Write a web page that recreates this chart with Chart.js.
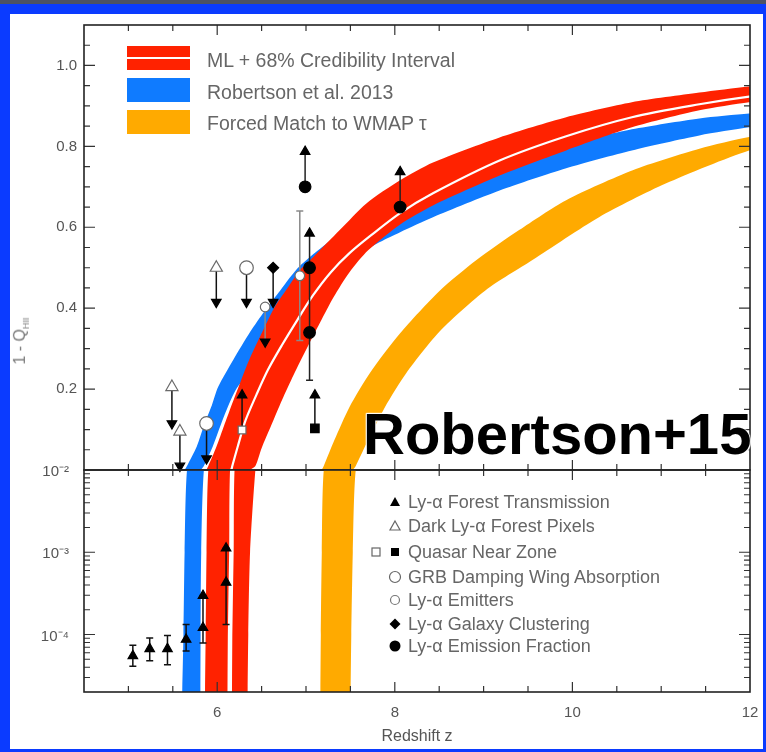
<!DOCTYPE html>
<html>
<head>
<meta charset="utf-8">
<script src="https://cdn.jsdelivr.net/npm/chart.js@4.4.1/dist/chart.umd.min.js"></script>
<style>
html, body { margin: 0; padding: 0; }
body { width: 766px; height: 752px; background: #0b3bff; position: relative; overflow: hidden; font-family: "Liberation Sans", Arial, sans-serif; }
#strip { position: absolute; left: 0; top: 0; width: 766px; height: 4px; background: #4d5266; }
#panel { position: absolute; left: 10px; top: 14px; width: 753px; height: 735px; background: #fff; }
canvas { position: absolute; left: 0; top: 0; }
.sw { position: absolute; left: 127px; width: 63px; height: 24px; }
.lg { position: absolute; left: 207px; font-size: 19.5px; line-height: 22px; color: #666; white-space: nowrap; }
.lg2 { position: absolute; left: 408px; font-size: 18px; line-height: 20px; color: #666; white-space: nowrap; }
.mk { position: absolute; width: 20px; height: 20px; }
#ytitle { position: absolute; left: 21px; top: 341px; transform: translate(-50%, -50%) rotate(-90deg); font-size: 16px; color: #777; white-space: nowrap; }
#ytitle sub { font-size: 9px; }
#stamp { position: absolute; left: 363px; top: 405px; font-size: 58px; line-height: 58px; font-weight: bold; color: #000; white-space: nowrap;
  text-shadow: 0 0 2px #fff, 0 0 2px #fff, 1px 1px 1px #fff, -1px -1px 1px #fff; }
</style>
</head>
<body>
<div id="strip"></div>
<div id="panel"></div>
<canvas id="top" width="766" height="752"></canvas>
<canvas id="bottom" width="766" height="752"></canvas>

<div class="sw" style="top:46px;background:#ff2200"><div style="position:absolute;left:0;right:0;top:10.5px;height:2.5px;background:#fff"></div></div>
<div class="sw" style="top:78px;background:#0f7bff"></div>
<div class="sw" style="top:110px;background:#ffaa00"></div>
<div class="lg" style="top:49px">ML + 68% Credibility Interval</div>
<div class="lg" style="top:81px">Robertson et al. 2013</div>
<div class="lg" style="top:112px">Forced Match to WMAP τ</div>

<svg class="mk" style="left:385px;top:492px" viewBox="0 0 20 20"><polygon points="10,5 15,14 5,14" fill="#000"/></svg>
<svg class="mk" style="left:385px;top:516px" viewBox="0 0 20 20"><polygon points="10,5 15,14 5,14" fill="#fff" stroke="#666" stroke-width="1.2"/></svg>
<svg class="mk" style="left:366px;top:542px" viewBox="0 0 20 20"><rect x="6" y="6" width="8" height="8" fill="#fff" stroke="#666" stroke-width="1.2"/></svg>
<svg class="mk" style="left:385px;top:542px" viewBox="0 0 20 20"><rect x="6" y="6" width="8" height="8" fill="#000"/></svg>
<svg class="mk" style="left:385px;top:567px" viewBox="0 0 20 20"><circle cx="10" cy="10" r="5.5" fill="#fff" stroke="#666" stroke-width="1.2"/></svg>
<svg class="mk" style="left:385px;top:590px" viewBox="0 0 20 20"><circle cx="10" cy="10" r="4.5" fill="#fff" stroke="#777" stroke-width="1.2"/></svg>
<svg class="mk" style="left:385px;top:614px" viewBox="0 0 20 20"><polygon points="10,4.5 15.5,10 10,15.5 4.5,10" fill="#000"/></svg>
<svg class="mk" style="left:385px;top:636px" viewBox="0 0 20 20"><circle cx="10" cy="10" r="5.5" fill="#000"/></svg>
<div class="lg2" style="top:492px">Ly-α Forest Transmission</div>
<div class="lg2" style="top:516px">Dark Ly-α Forest Pixels</div>
<div class="lg2" style="top:542px">Quasar Near Zone</div>
<div class="lg2" style="top:567px">GRB Damping Wing Absorption</div>
<div class="lg2" style="top:590px">Ly-α Emitters</div>
<div class="lg2" style="top:614px">Ly-α Galaxy Clustering</div>
<div class="lg2" style="top:636px">Ly-α Emission Fraction</div>

<div id="ytitle">1 - Q<sub>HII</sub></div>
<div id="stamp">Robertson+15</div>

<script>
// bands: [redshift, 1 - Q_HII] along each edge
const mlHi = [[5.86,1e-5],[5.87,1e-4],[5.88,1e-3],[5.90,0.01],[5.99,0.057],[6.06,0.099],[6.13,0.141],[6.24,0.205],[6.35,0.267],[6.49,0.333],[6.64,0.400],[6.79,0.449],[6.93,0.494],[7.08,0.526],[7.38,0.593],[7.68,0.659],[8.06,0.716],[8.43,0.760],[9.18,0.822],[9.93,0.872],[10.67,0.909],[11.43,0.933],[11.99,0.948],[12.3,0.955]];
const mlLo = [[6.34,1e-5],[6.35,1e-4],[6.37,1e-3],[6.43,0.01],[6.50,0.054],[6.61,0.111],[6.73,0.173],[6.86,0.235],[7.01,0.301],[7.16,0.365],[7.31,0.427],[7.49,0.489],[7.70,0.543],[8.06,0.607],[8.43,0.654],[9.18,0.728],[9.93,0.790],[10.67,0.847],[11.43,0.889],[11.99,0.909],[12.3,0.915]];
const mlBest = [[6.14,1e-5],[6.145,1e-4],[6.16,1e-3],[6.17,0.01],[6.23,0.057],[6.32,0.123],[6.44,0.185],[6.57,0.247],[6.73,0.309],[6.90,0.370],[7.08,0.432],[7.28,0.489],[7.49,0.536],[7.72,0.578],[8.06,0.635],[8.43,0.684],[9.18,0.765],[9.93,0.825],[10.67,0.872],[11.43,0.904],[11.99,0.923],[12.3,0.929]];
const r13Hi = [[5.60,1e-5],[5.62,1e-4],[5.633,1e-3],[5.66,0.01],[5.77,0.058],[5.86,0.116],[5.94,0.160],[6.01,0.205],[6.18,0.272],[6.37,0.341],[6.54,0.395],[6.71,0.444],[6.93,0.504],[7.38,0.585],[7.68,0.635],[8.06,0.679],[8.43,0.716],[9.18,0.763],[9.93,0.805],[10.67,0.842],[11.43,0.869],[11.99,0.881],[12.3,0.886]];
const r13Lo = [[5.81,1e-5],[5.813,1e-4],[5.82,1e-3],[5.85,0.01],[5.95,0.058],[6.09,0.140],[6.22,0.202],[6.43,0.259],[6.65,0.326],[6.84,0.378],[7.02,0.427],[7.27,0.481],[7.52,0.523],[7.80,0.560],[8.06,0.588],[8.43,0.625],[9.18,0.691],[9.93,0.746],[10.67,0.790],[11.43,0.827],[11.99,0.847],[12.3,0.853]];
const wmapHi = [[7.16,1e-5],[7.167,1e-4],[7.178,1e-3],[7.20,0.01],[7.32,0.074],[7.49,0.156],[7.72,0.240],[8.06,0.338],[8.50,0.442],[8.92,0.519],[9.40,0.593],[9.93,0.667],[10.68,0.741],[11.43,0.794],[11.99,0.823],[12.3,0.830]];
const wmapLo = [[7.50,1e-5],[7.51,1e-4],[7.527,1e-3],[7.56,0.01],[7.70,0.074],[7.89,0.156],[8.13,0.240],[8.52,0.346],[9.02,0.444],[9.55,0.519],[10.30,0.625],[11.05,0.708],[11.99,0.790],[12.3,0.797]];

// constraints (top panel, linear)
const darkZ = [5.49, 5.58, 5.99], darkV = [0.205, 0.095, 0.50], darkLim = [0.115, 0.01, 0.415];
const grbZ = [5.88, 6.33], grbV = [0.115, 0.50], grbLim = [0.028, 0.415];
const laeZ = [6.54, 6.93], laeV = [0.403, 0.48], laeLim = [0.317, null], laeLo = [null, 0.32], laeHi = [null, 0.64];
const clusZ = [6.63], clusV = [0.50], clusLim = [0.415];
const fracZ = [6.99, 7.04, 7.04, 8.06], fracV = [0.70, 0.50, 0.34, 0.65], fracLim = [0.787, 0.585, null, 0.737];
const fracLo = [null, null, 0.222, null], fracHi = [null, null, 0.50, null];
const qsoZ = [7.10], qsoV = [0.103], qsoLim = [0.185];
const qsoOpenZ = [6.28], qsoOpenV = [0.099], qsoOpenLim = [0.185];
// bottom panel, log
const forestZ = [5.05, 5.24, 5.44, 5.65, 5.84, 5.84, 6.10, 6.10];
const forestV = [5.5e-5, 6.7e-5, 6.7e-5, 8.7e-5, 1.21e-4, 2.97e-4, 4.3e-4, 1.12e-3];
const forestLo = [4.1e-5, 4.8e-5, 4.3e-5, 6.3e-5, 7.9e-5, null, 1.32e-4, null];
const forestHi = [7.4e-5, 9.1e-5, 9.7e-5, 1.32e-4, 2.97e-4, null, 1.12e-3, null];

// axes
const xLabels = [6, 8, 10, 12];
const xMajor = [6, 8, 10];
const xMinor = [5, 5.5, 6.5, 7, 7.5, 8.5, 9, 9.5, 10.5, 11, 11.5];
const topLabels = [0.2, 0.4, 0.6, 0.8, 1.0];
const logLabels = {'0.01': '10⁻²', '0.001': '10⁻³', '0.0001': '10⁻⁴'};

const RED = '#ff2200', BLUE = '#0f7bff', ORANGE = '#ffaa00';
Chart.defaults.font.family = '"Liberation Sans", Arial, sans-serif';

const pts = (zs, vs) => zs.map((z, i) => ({x: z, y: vs[i]}));
const heads = (zs, vs, lims, up) => zs.map((z, i) => lims[i] != null && (lims[i] > vs[i]) === up ? {x: z, y: lims[i]} : null).filter(p => p);

function band(hi, lo, color, order) {
    const poly = hi.concat(lo.slice().reverse()).map(([x, y]) => ({x, y}));
    return { data: poly, borderWidth: 0, pointRadius: 0, fill: 'shape', backgroundColor: color, tension: 0.25, capBezierPoints: false, order };
}

function bandSets(mlWidth) {
    return [
        band(wmapHi, wmapLo, ORANGE, 20),
        band(r13Hi, r13Lo, BLUE, 19),
        band(mlHi, mlLo, RED, 18),
        { label: 'ML', data: mlBest.map(([x, y]) => ({x, y})), borderColor: '#fff', borderWidth: mlWidth, pointRadius: 0, tension: 0.3, fill: false, order: 17 }
    ];
}

function marks(data, style, order) {
    return Object.assign({ data, showLine: false, pointBorderWidth: 1.2, clip: 10, order }, style);
}

const filled = { pointBackgroundColor: '#000', pointBorderColor: '#000' };
const open = { pointBackgroundColor: '#fff', pointBorderColor: '#6a6a6a' };

// error bars and limit arrows, drawn right after the ML line
function barsPlugin(sets) {
    return {
        id: 'bars',
        afterDatasetDraw(chart, args) {
            if (chart.data.datasets[args.index].label !== 'ML') return;
            const {ctx, scales: {x, y}} = chart;
            ctx.save();
            ctx.lineCap = 'butt';
            sets.forEach(s => {
                ctx.strokeStyle = s.color;
                ctx.lineWidth = s.width || 1.5;
                s.z.forEach((z, i) => {
                    const px = x.getPixelForValue(z);
                    const py = y.getPixelForValue(s.v[i]);
                    ctx.beginPath();
                    if (s.lim && s.lim[i] != null) {
                        ctx.moveTo(px, py);
                        ctx.lineTo(px, y.getPixelForValue(s.lim[i]));
                    }
                    if (s.lo && s.lo[i] != null) {
                        const a = y.getPixelForValue(s.lo[i]), b = y.getPixelForValue(s.hi[i]);
                        ctx.moveTo(px, a); ctx.lineTo(px, b);
                        ctx.moveTo(px - 3.5, a); ctx.lineTo(px + 3.5, a);
                        ctx.moveTo(px - 3.5, b); ctx.lineTo(px + 3.5, b);
                    }
                    ctx.stroke();
                });
            });
            ctx.restore();
        }
    };
}

// box with inward ticks on all four sides
function framePlugin(yMajor, yMinor) {
    return {
        id: 'frame',
        afterDatasetsDraw(chart) {
            const {ctx, chartArea: a, scales: {x, y}} = chart;
            ctx.save();
            ctx.strokeStyle = '#333';
            ctx.lineWidth = 1.2;
            ctx.beginPath();
            const xt = (v, len) => {
                const p = x.getPixelForValue(v);
                ctx.moveTo(p, a.top); ctx.lineTo(p, a.top + len);
                ctx.moveTo(p, a.bottom); ctx.lineTo(p, a.bottom - len);
            };
            const yt = (v, len) => {
                const p = y.getPixelForValue(v);
                ctx.moveTo(a.left, p); ctx.lineTo(a.left + len, p);
                ctx.moveTo(a.right, p); ctx.lineTo(a.right - len, p);
            };
            xMajor.forEach(v => xt(v, 10));
            xMinor.forEach(v => xt(v, 6));
            yMajor.forEach(v => yt(v, 11));
            yMinor.forEach(v => yt(v, 6));
            ctx.stroke();
            ctx.lineWidth = 1.6;
            ctx.strokeStyle = '#222';
            ctx.strokeRect(a.left, a.top, a.right - a.left, a.bottom - a.top);
            ctx.restore();
        }
    };
}

const tickFont = { size: 15 };
const common = {
    responsive: false,
    animation: false,
    events: [],
    plugins: { legend: { display: false }, tooltip: { enabled: false } }
};
const fixWidth = s => { s.width = 84; s.paddingTop = 0; s.paddingBottom = 0; };

// top panel: linear 0 - 1.1
const topMinor = [];
for (let k = 1; k <= 21; k++) if (k % 4 !== 0) topMinor.push(k * 0.05);

new Chart(document.getElementById('top'), {
    type: 'line',
    data: {
        datasets: [
            ...bandSets(2.2),
            marks(pts(darkZ, darkV), Object.assign({ pointStyle: 'triangle', pointRadius: 7 }, open), 5),
            marks(pts(grbZ, grbV), Object.assign({ pointStyle: 'circle', pointRadius: 6.8 }, open), 5),
            marks(pts(laeZ, laeV), Object.assign({ pointStyle: 'circle', pointRadius: 4.8 }, open), 5),
            marks(pts(qsoOpenZ, qsoOpenV), Object.assign({ pointStyle: 'rect', pointRadius: 5.5 }, open), 5),
            marks(pts(clusZ, clusV), Object.assign({ pointStyle: 'rectRot', pointRadius: 5.5 }, filled), 4),
            marks(pts(fracZ, fracV), Object.assign({ pointStyle: 'circle', pointRadius: 5.8 }, filled), 4),
            marks(pts(qsoZ, qsoV), Object.assign({ pointStyle: 'rect', pointRadius: 6 }, filled), 4),
            marks([].concat(heads(darkZ, darkV, darkLim, false), heads(grbZ, grbV, grbLim, false), heads(laeZ, laeV, laeLim, false), heads(clusZ, clusV, clusLim, false)),
                Object.assign({ pointStyle: 'triangle', pointRadius: 5.5, pointRotation: 180 }, filled), 3),
            marks([].concat(heads(fracZ, fracV, fracLim, true), heads(qsoZ, qsoV, qsoLim, true), heads(qsoOpenZ, qsoOpenV, qsoOpenLim, true)),
                Object.assign({ pointStyle: 'triangle', pointRadius: 5.5 }, filled), 3)
        ]
    },
    options: Object.assign({}, common, {
        layout: { padding: { top: 25, right: 16, bottom: 282, left: 0 } },
        scales: {
            x: { type: 'linear', min: 4.5, max: 12, display: false },
            y: {
                type: 'linear', min: 0, max: 1.1,
                grid: { display: false, drawTicks: false }, border: { display: false },
                afterFit: fixWidth,
                afterBuildTicks: s => { s.ticks = topLabels.map(v => ({ value: v })); },
                ticks: { padding: 7, color: '#555', font: tickFont, callback: v => v.toFixed(1) }
            }
        }
    }),
    plugins: [
        framePlugin(topLabels, topMinor),
        barsPlugin([
            { z: darkZ, v: darkV, lim: darkLim, color: '#111' },
            { z: grbZ, v: grbV, lim: grbLim, color: '#111' },
            { z: laeZ, v: laeV, lim: laeLim, lo: laeLo, hi: laeHi, color: '#8a8a8a' },
            { z: clusZ, v: clusV, lim: clusLim, color: '#111' },
            { z: fracZ, v: fracV, lim: fracLim, lo: fracLo, hi: fracHi, color: '#222' },
            { z: qsoZ, v: qsoV, lim: qsoLim, color: '#111' },
            { z: qsoOpenZ, v: qsoOpenV, lim: qsoOpenLim, color: '#111' }
        ])
    ]
});

// bottom panel: log 2e-5 - 1e-2
const logMajor = [1e-4, 1e-3];
const logMinor = [];
for (let e = -5; e <= -3; e++) for (let k = 2; k <= 9; k++) {
    const v = k * Math.pow(10, e);
    if (v > 2e-5 && v < 1e-2) logMinor.push(v);
}

new Chart(document.getElementById('bottom'), {
    type: 'line',
    data: {
        datasets: [
            ...bandSets(4.5),
            marks(pts(forestZ, forestV), Object.assign({ pointStyle: 'triangle', pointRadius: 5.5 }, filled), 4)
        ]
    },
    options: Object.assign({}, common, {
        layout: { padding: { top: 470, right: 16, bottom: 0, left: 0 } },
        scales: {
            x: {
                type: 'linear', min: 4.5, max: 12, position: 'bottom',
                grid: { display: false, drawTicks: false }, border: { display: false },
                afterFit: s => { s.height = 60; s.paddingLeft = 0; s.paddingRight = 0; },
                afterBuildTicks: s => { s.ticks = xLabels.map(v => ({ value: v })); },
                ticks: { padding: 12, color: '#555', font: tickFont, maxRotation: 0 },
                title: { display: true, text: 'Redshift z', color: '#555', font: { size: 16 }, padding: { top: 0, bottom: 6 } }
            },
            y: {
                type: 'logarithmic', min: 2e-5, max: 1e-2,
                grid: { display: false, drawTicks: false }, border: { display: false },
                afterFit: fixWidth,
                afterBuildTicks: s => { s.ticks = [1e-4, 1e-3, 1e-2].map(v => ({ value: v })); },
                ticks: { padding: 15, labelOffset: 2, color: '#555', font: tickFont, callback: v => logLabels[String(v)] || '' }
            }
        }
    }),
    plugins: [
        framePlugin(logMajor, logMinor),
        barsPlugin([{ z: forestZ, v: forestV, lo: forestLo, hi: forestHi, color: '#111' }])
    ]
});
</script>
</body>
</html>
